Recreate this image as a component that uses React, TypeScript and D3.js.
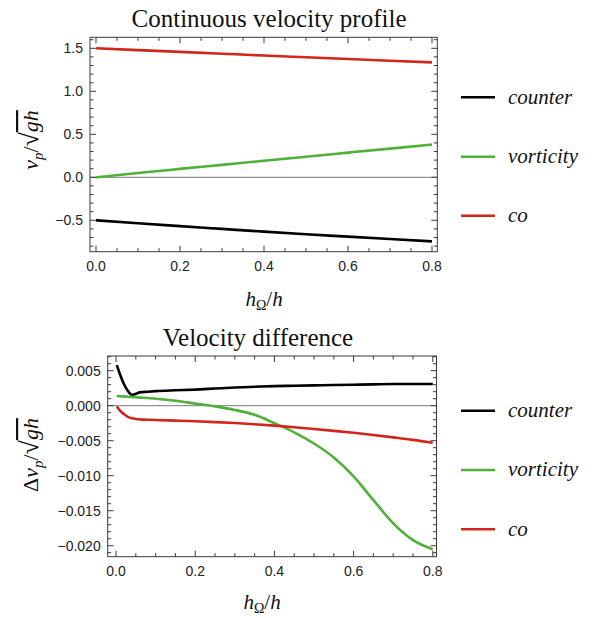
import React from "react";
import * as d3 from "d3";

// ---------- data ----------
const topX = [0, 0.1, 0.2, 0.3, 0.4, 0.5, 0.6, 0.7, 0.8];
const topCounter = [-0.5, -0.535, -0.568, -0.6, -0.632, -0.662, -0.69, -0.718, -0.745];
const topVorticity = [0, 0.05, 0.098, 0.145, 0.192, 0.24, 0.287, 0.334, 0.38];
const topCo = [1.5, 1.479, 1.458, 1.437, 1.416, 1.396, 1.376, 1.356, 1.337];

const botX = [0.002, 0.01, 0.02, 0.03, 0.04, 0.05, 0.06, 0.08, 0.1, 0.15, 0.2, 0.25, 0.3, 0.35, 0.4, 0.45, 0.5, 0.55, 0.6, 0.65, 0.7, 0.75, 0.8];
const botCounter = [0.0058, 0.0045, 0.0031, 0.0021, 0.00155, 0.0017, 0.0019, 0.002, 0.00208, 0.0022, 0.0023, 0.00245, 0.0026, 0.0027, 0.0028, 0.00285, 0.0029, 0.00295, 0.003, 0.00305, 0.0031, 0.0031, 0.0031];
const botVorticity = [0.0014, 0.00136, 0.00132, 0.00128, 0.00124, 0.0012, 0.00116, 0.0011, 0.001, 0.0007, 0.0003, -0.0001, -0.0006, -0.0013, -0.0025, -0.0038, -0.0054, -0.0074, -0.0101, -0.0135, -0.0168, -0.0192, -0.0205];
const botCo = [-0.0001, -0.0007, -0.0012, -0.0016, -0.0018, -0.0019, -0.00195, -0.002, -0.00205, -0.00213, -0.00222, -0.00234, -0.00248, -0.00265, -0.00285, -0.00308, -0.00333, -0.00359, -0.00387, -0.00418, -0.00452, -0.00488, -0.0053];

const seriesNames = ["counter", "vorticity", "co"];
const seriesColors = ["#000000", "#4fb03a", "#d2261c"];

const xMajorTicks = [0, 0.2, 0.4, 0.6, 0.8];
const topYMajorTicks = [-0.5, 0, 0.5, 1.0, 1.5];
const botYMajorTicks = [-0.02, -0.015, -0.01, -0.005, 0, 0.005];

const fmt1 = d3.format(".1f");
const fmt3 = d3.format(".3f");

type PanelProps = {
  id: string;
  xDomain: [number, number];
  xRange: [number, number];
  yDomain: [number, number];
  yRange: [number, number];
  xs: number[];
  series: number[][];
  yMajor: number[];
  yMinorStep: number;
  yFmt: (v: number) => string;
  title: string;
  titleX: number;
  titleY: number;
  xLabelX: number;
  xLabelY: number;
  yLabelX: number;
  yLabelY: number;
  delta: boolean;
  legendYs: number[];
};

const frameColor = "#3a3a3a";
const tickFont = "'Liberation Sans', Arial, sans-serif";
const titleFont = "'Liberation Serif', 'Times New Roman', serif";
const mathFont = "'Liberation Serif', 'Times New Roman', serif";

function Panel(p: PanelProps) {
  const x = d3.scaleLinear().domain(p.xDomain).range(p.xRange);
  const y = d3.scaleLinear().domain(p.yDomain).range(p.yRange);
  const [x0, x1] = p.xRange;
  const [y1, y0] = p.yRange;
  const xMinor = d3.range(0, 0.8 + 1e-9, 0.05);
  const yMinorStart = Math.ceil(p.yDomain[0] / p.yMinorStep) * p.yMinorStep;
  const yMinor = d3.range(yMinorStart, p.yDomain[1] + 1e-12, p.yMinorStep);
  const isMajorY = (v: number) => p.yMajor.some((m) => Math.abs(m - v) < p.yMinorStep * 0.1);
  const isMajorX = (v: number) => xMajorTicks.some((m) => Math.abs(m - v) < 0.001);
  const line = d3
    .line<number>()
    .x((_, i) => x(p.xs[i]))
    .y((d) => y(d))
    .curve(d3.curveMonotoneX);
  const big = 6;
  const small = 3.5;
  return (
    <g>
      <defs>
        <clipPath id={"clip" + p.id}>
          <rect x={x0} y={y0} width={x1 - x0} height={y1 - y0} />
        </clipPath>
      </defs>
      <line x1={x0} x2={x1} y1={y(0)} y2={y(0)} stroke="#7a7a7a" strokeWidth={1} />
      <g clipPath={`url(#clip${p.id})`}>
        {p.series.map((s, i) => (
          <path key={i} d={line(s) || ""} fill="none" stroke={seriesColors[i]} strokeWidth={2.6} strokeLinejoin="round" />
        ))}
      </g>
      <rect x={x0} y={y0} width={x1 - x0} height={y1 - y0} fill="none" stroke={frameColor} strokeWidth={1} />
      {xMinor.map((v, i) => {
        const L = isMajorX(v) ? big : small;
        return (
          <g key={"xt" + i}>
            <line x1={x(v)} x2={x(v)} y1={y1} y2={y1 - L} stroke={frameColor} strokeWidth={1} />
            <line x1={x(v)} x2={x(v)} y1={y0} y2={y0 + L} stroke={frameColor} strokeWidth={1} />
          </g>
        );
      })}
      {xMajorTicks.map((v, i) => (
        <text key={"xl" + i} x={x(v)} y={y1 + 19} textAnchor="middle" fontFamily={tickFont} fontSize={14} fill="#222">
          {fmt1(v)}
        </text>
      ))}
      {yMinor.map((v, i) => {
        const L = isMajorY(v) ? big : small;
        return (
          <g key={"yt" + i}>
            <line x1={x0} x2={x0 + L} y1={y(v)} y2={y(v)} stroke={frameColor} strokeWidth={1} />
            <line x1={x1} x2={x1 - L} y1={y(v)} y2={y(v)} stroke={frameColor} strokeWidth={1} />
          </g>
        );
      })}
      {p.yMajor.map((v, i) => (
        <text key={"yl" + i} x={x0 - 7} y={y(v)} dy="0.35em" textAnchor="end" fontFamily={tickFont} fontSize={14} fill="#222">
          {p.yFmt(v)}
        </text>
      ))}
      <text x={p.titleX} y={p.titleY} textAnchor="middle" fontFamily={titleFont} fontSize={25} fill="#111">
        {p.title}
      </text>
      <text x={p.xLabelX} y={p.xLabelY} textAnchor="middle" fontFamily={mathFont} fontSize={21} fill="#111">
        <tspan fontStyle="italic">h</tspan>
        <tspan fontSize={14} dy={4}>Ω</tspan>
        <tspan dy={-4}>/</tspan>
        <tspan fontStyle="italic">h</tspan>
      </text>
      <text
        transform={`translate(${p.yLabelX},${p.yLabelY}) rotate(-90)`}
        textAnchor="middle"
        fontFamily={mathFont}
        fontSize={22}
        fill="#111"
      >
        {p.delta ? <tspan>Δ</tspan> : null}
        <tspan fontStyle="italic">v</tspan>
        <tspan fontStyle="italic" fontSize={15} dy={5}>p</tspan>
        <tspan dy={-5}>/</tspan>
        <tspan fontSize={26}>√</tspan>
        <tspan fontStyle="italic" style={{ textDecoration: "overline" }}>gh</tspan>
      </text>
      {seriesNames.map((n, i) => (
        <g key={"lg" + i}>
          <line x1={461} x2={495} y1={p.legendYs[i]} y2={p.legendYs[i]} stroke={seriesColors[i]} strokeWidth={2.6} />
          <text x={508} y={p.legendYs[i]} dy="0.3em" fontFamily={mathFont} fontStyle="italic" fontSize={21} fill="#111">
            {n}
          </text>
        </g>
      ))}
    </g>
  );
}

export default function App() {
  return (
    <svg width={596} height={618} style={{ position: "absolute", left: 0, top: 0, background: "#fff" }}>
      <rect width={596} height={618} fill="#fff" />
      <Panel
        id="a"
        xDomain={[-0.0143, 0.8126]}
        xRange={[90, 437.3]}
        yDomain={[-0.865, 1.628]}
        yRange={[251.7, 37.3]}
        xs={topX}
        series={[topCounter, topVorticity, topCo]}
        yMajor={topYMajorTicks}
        yMinorStep={0.1}
        yFmt={fmt1}
        title="Continuous velocity profile"
        titleX={269}
        titleY={27}
        xLabelX={264}
        xLabelY={306}
        yLabelX={38}
        yLabelY={140}
        delta={false}
        legendYs={[97.3, 156.7, 215.7]}
      />
      <Panel
        id="b"
        xDomain={[-0.021, 0.8093]}
        xRange={[107.7, 436.5]}
        yDomain={[-0.02157, 0.0071]}
        yRange={[556.7, 356]}
        xs={botX}
        series={[botCounter, botVorticity, botCo]}
        yMajor={botYMajorTicks}
        yMinorStep={0.001}
        yFmt={fmt3}
        title="Velocity difference"
        titleX={258}
        titleY={346}
        xLabelX={262}
        xLabelY={609}
        yLabelX={38}
        yLabelY={455}
        delta={true}
        legendYs={[410.7, 470, 529.3]}
      />
    </svg>
  );
}
